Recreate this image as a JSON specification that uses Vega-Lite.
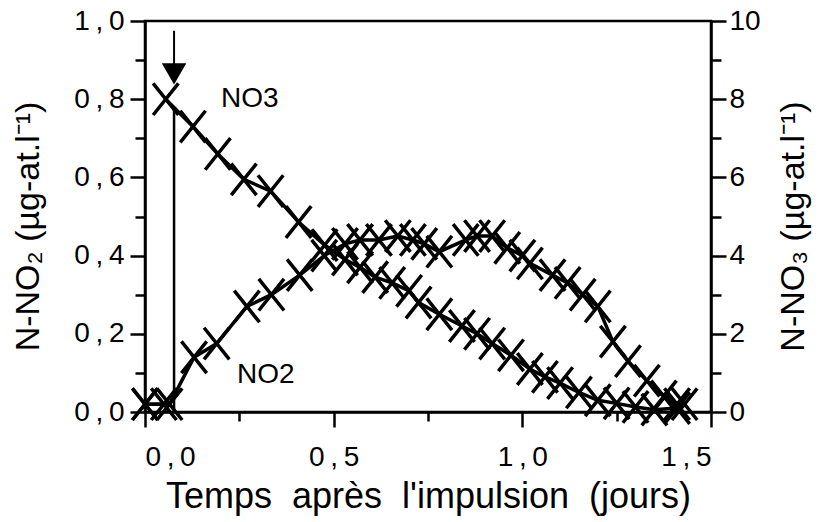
{
  "$schema": "https://vega.github.io/schema/vega-lite/v6.json",
  "width": 566,
  "height": 391,
  "autosize": {"type": "none"},
  "padding": {"left": 145, "top": 21, "right": 118, "bottom": 110},
  "background": "white",
  "config": {
    "view": {"stroke": "black", "strokeWidth": 2.5},
    "font": "Liberation Sans",
    "axis": {
      "domainColor": "black", "domainWidth": 2.5, "tickColor": "black", "tickWidth": 2.5,
      "labelColor": "black", "labelFont": "Liberation Sans", "labelFontSize": 28,
      "titleColor": "black", "titleFont": "Liberation Sans", "titleFontSize": 34, "titleFontWeight": "normal",
      "grid": false
    }
  },
  "datasets": {
    "no2": [
      {"t": 0.0, "v": 0.02}, {"t": 0.065, "v": 0.02}, {"t": 0.13, "v": 0.14}, {"t": 0.19, "v": 0.175},
      {"t": 0.27, "v": 0.27}, {"t": 0.335, "v": 0.30}, {"t": 0.41, "v": 0.35}, {"t": 0.475, "v": 0.40},
      {"t": 0.53, "v": 0.43}, {"t": 0.57, "v": 0.44}, {"t": 0.62, "v": 0.44}, {"t": 0.67, "v": 0.45},
      {"t": 0.71, "v": 0.44}, {"t": 0.74, "v": 0.43}, {"t": 0.78, "v": 0.41}, {"t": 0.85, "v": 0.44},
      {"t": 0.88, "v": 0.45}, {"t": 0.92, "v": 0.45}, {"t": 0.96, "v": 0.42}, {"t": 1.0, "v": 0.40},
      {"t": 1.02, "v": 0.38}, {"t": 1.08, "v": 0.35}, {"t": 1.12, "v": 0.33}, {"t": 1.16, "v": 0.30},
      {"t": 1.2, "v": 0.27}, {"t": 1.24, "v": 0.18}, {"t": 1.28, "v": 0.13}, {"t": 1.33, "v": 0.08},
      {"t": 1.375, "v": 0.04}, {"t": 1.41, "v": 0.02}, {"t": 1.43, "v": 0.02}
    ],
    "no3": [
      {"t": 0.0, "v": 0.2, "seg": "a"}, {"t": 0.05, "v": 0.2, "seg": "a"},
      {"t": 0.055, "v": 8.0, "seg": "b"}, {"t": 0.127, "v": 7.3, "seg": "b"}, {"t": 0.193, "v": 6.6, "seg": "b"},
      {"t": 0.262, "v": 5.95, "seg": "b"}, {"t": 0.333, "v": 5.65, "seg": "b"}, {"t": 0.407, "v": 4.86, "seg": "b"},
      {"t": 0.476, "v": 4.27, "seg": "b"}, {"t": 0.53, "v": 3.9, "seg": "b"}, {"t": 0.57, "v": 3.7, "seg": "b"},
      {"t": 0.61, "v": 3.45, "seg": "b"}, {"t": 0.655, "v": 3.3, "seg": "b"}, {"t": 0.7, "v": 3.1, "seg": "b"},
      {"t": 0.725, "v": 2.8, "seg": "b"}, {"t": 0.78, "v": 2.5, "seg": "b"}, {"t": 0.84, "v": 2.2, "seg": "b"},
      {"t": 0.88, "v": 2.0, "seg": "b"}, {"t": 0.92, "v": 1.75, "seg": "b"}, {"t": 0.97, "v": 1.45, "seg": "b"},
      {"t": 1.02, "v": 1.1, "seg": "b"}, {"t": 1.06, "v": 0.9, "seg": "b"}, {"t": 1.1, "v": 0.74, "seg": "b"},
      {"t": 1.15, "v": 0.5, "seg": "b"}, {"t": 1.2, "v": 0.3, "seg": "b"}, {"t": 1.25, "v": 0.22, "seg": "b"},
      {"t": 1.3, "v": 0.13, "seg": "b"}, {"t": 1.35, "v": 0.06, "seg": "b"}, {"t": 1.41, "v": 0.1, "seg": "b"}
    ],
    "labels": [
      {"t": 0.278, "v": 0.80, "label": "NO3"},
      {"t": 0.32, "v": 0.095, "label": "NO2"}
    ],
    "arrow": [
      {"t": 0.077, "v": 0.975, "v2": 0.865}
    ],
    "impulse": [
      {"t": 0.077, "v": 0, "v2": 7.75}
    ]
  },
  "encoding": {
    "x": {
      "field": "t", "type": "quantitative",
      "scale": {"domain": [0, 1.5], "nice": false, "zero": false},
      "axis": {
        "title": "Temps\u00a0\u00a0après\u00a0\u00a0l'impulsion\u00a0\u00a0(jours)",
        "values": [0, 0.25, 0.5, 0.75, 1.0, 1.25, 1.5],
        "labelExpr": "round(datum.value*4)%2==0 ? replace(format(datum.value,'.1f'),'.','\u2009,\u2009') : ''",
        "tickSize": {"condition": {"test": "round(datum.value*4)%2==0", "value": 15}, "value": 9},
        "labelPadding": 16, "titlePadding": 8, "titleFontSize": 36
      }
    }
  },
  "layer": [
    {
      "encoding": {
        "y": {
          "field": "v", "type": "quantitative",
          "scale": {"domain": [0, 1], "nice": false},
          "axis": {
            "orient": "left",
            "title": "N-NO₂ (µg-at.l⁻¹)",
            "values": [0, 0.1, 0.2, 0.3, 0.4, 0.5, 0.6, 0.7, 0.8, 0.9, 1.0],
            "labelExpr": "round(datum.value*10)%2==0 ? replace(format(datum.value,'.1f'),'.','\u2009,\u2009') : ''",
            "tickSize": {"condition": {"test": "round(datum.value*10)%2==0", "value": 15}, "value": 10},
            "labelPadding": 6, "titlePadding": 28, "titleY": 205
          }
        }
      },
      "layer": [
        {"data": {"name": "no2"}, "mark": {"type": "line", "color": "black", "strokeWidth": 3.5, "clip": false}},
        {"data": {"name": "no2"}, "mark": {"type": "point", "shape": "M-0.8,-1L0.8,1M-0.8,1L0.8,-1", "filled": false, "stroke": "black", "strokeWidth": 3.5, "size": 1000, "opacity": 1, "clip": false}},
        {"data": {"name": "arrow"}, "mark": {"type": "rule", "color": "black", "strokeWidth": 2},
         "encoding": {"y2": {"field": "v2"}}},
        {"data": {"name": "arrow"}, "mark": {"type": "point", "shape": "triangle-down", "filled": true, "color": "black", "size": 600, "opacity": 1},
         "encoding": {"y": {"field": "v2", "type": "quantitative"}}},
        {"data": {"name": "labels"}, "mark": {"type": "text", "font": "Liberation Sans", "fontSize": 28, "color": "black", "align": "center", "baseline": "middle"},
         "encoding": {"text": {"field": "label"}}}
      ]
    },
    {
      "encoding": {
        "y": {
          "field": "v", "type": "quantitative",
          "scale": {"domain": [0, 10], "nice": false},
          "axis": {
            "orient": "right",
            "title": "N-NO₃ (µg-at.l⁻¹)",
            "titleAngle": -90,
            "values": [0, 1, 2, 3, 4, 5, 6, 7, 8, 9, 10],
            "labelExpr": "round(datum.value)%2==0 ? format(datum.value,'d') : ''",
            "tickSize": {"condition": {"test": "round(datum.value)%2==0", "value": 15}, "value": 10},
            "labelPadding": 3, "titlePadding": 50, "titleY": 205
          }
        }
      },
      "layer": [
        {"data": {"name": "no3"}, "mark": {"type": "line", "color": "black", "strokeWidth": 3.5, "clip": false},
         "encoding": {"detail": {"field": "seg"}}},
        {"data": {"name": "no3"}, "mark": {"type": "point", "shape": "M-0.8,-1L0.8,1M-0.8,1L0.8,-1", "filled": false, "stroke": "black", "strokeWidth": 3.5, "size": 1000, "opacity": 1, "clip": false}},
        {"data": {"name": "impulse"}, "mark": {"type": "rule", "color": "black", "strokeWidth": 2.5},
         "encoding": {"y2": {"field": "v2"}}}
      ]
    }
  ],
  "resolve": {"scale": {"y": "independent"}}
}
